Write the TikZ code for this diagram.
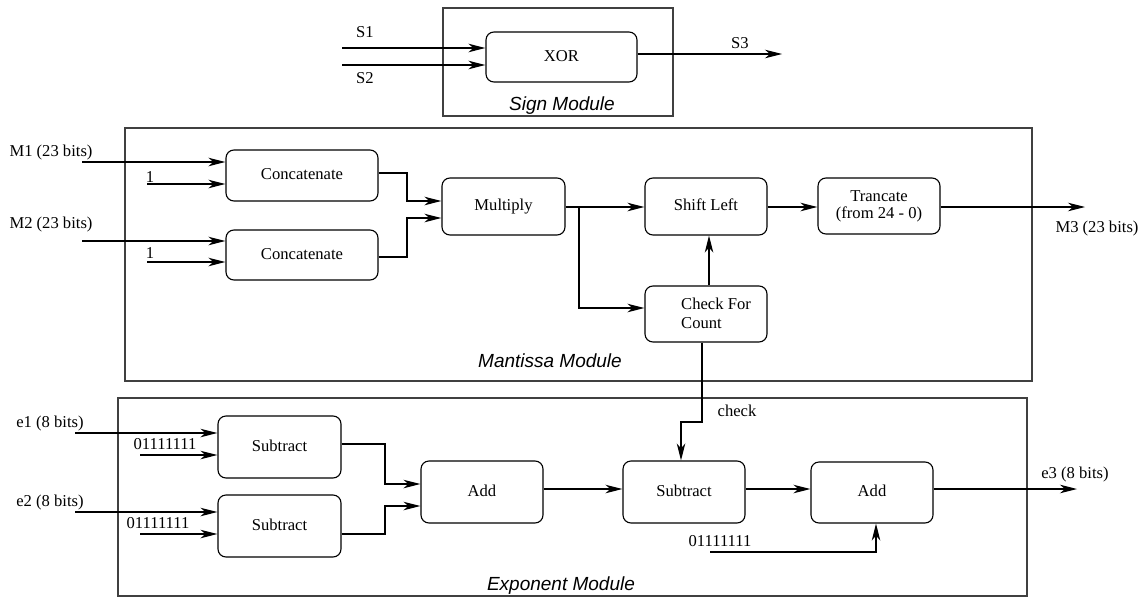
\documentclass[tikz,border=0pt]{standalone}
\usepackage{fontspec}
\setmainfont{Liberation Serif}
\newfontfamily\modfont{Liberation Sans}
\usetikzlibrary{arrows.meta,calc}
\begin{document}
\begin{tikzpicture}[x=1pt,y=-1pt,
  blk/.style={draw, line width=1.1pt, rounded corners=8pt, inner sep=0pt,
    font=\fontsize{16.6}{17}\selectfont, align=center},
  onel/.style={text height=11.5pt, text depth=3.5pt},
  modbox/.style={draw=black!75, line width=1.1pt, inner sep=0pt},
  lbl/.style={font=\fontsize{16.6}{19}\selectfont, inner sep=0pt, anchor=base},
  modlbl/.style={font=\modfont\itshape\fontsize{19}{22}\selectfont, inner sep=0pt, anchor=base},
  wire/.style={line width=1.1pt},
  arr/.style={line width=1.1pt, -{Stealth[length=17pt,width=8.5pt,inset=5pt]}}
]
\useasboundingbox (0,0) rectangle (1148,597);

% modules
\node[modbox, minimum width=230pt, minimum height=108pt] (sign) at (558,62) {};
\node[modbox, minimum width=907pt, minimum height=253pt] (mant) at (578.5,254.5) {};
\node[modbox, minimum width=909pt, minimum height=198pt] (expo) at (572.5,497) {};
\node[modlbl] (signlbl) at (562,110) {Sign Module};
\node[modlbl] (mantlbl) at (550,367) {Mantissa Module};
\node[modlbl] (expolbl) at (561,590) {Exponent Module};

% blocks
\node[blk, onel, minimum width=151pt, minimum height=50pt] (xor) at (561.5,57) {XOR};
\node[blk, onel, minimum width=152pt, minimum height=51pt] (cat1) at (302,175.5) {Concatenate};
\node[blk, onel, minimum width=152pt, minimum height=50pt] (cat2) at (302,255) {Concatenate};
\node[blk, onel, minimum width=123pt, minimum height=57pt] (mul) at (503.5,206.5) {Multiply};
\node[blk, onel, minimum width=122pt, minimum height=57pt] (shl) at (706,206.5) {Shift Left};
\node[blk, minimum width=122pt, minimum height=56pt] (chk) at (706,314) {};
\node[lbl, align=left, anchor=west] (chktxt) at ($(chk.center)+(-25,-1)$) {Check For\\Count};
\node[blk, minimum width=122pt, minimum height=56pt] (trc) at (879,206) {Trancate\\(from 24 - 0)};
\node[blk, onel, minimum width=123pt, minimum height=62pt] (sub1) at (279.5,447) {Subtract};
\node[blk, onel, minimum width=123pt, minimum height=62pt] (sub2) at (279.5,526) {Subtract};
\node[blk, onel, minimum width=122pt, minimum height=62pt] (add1) at (482,492) {Add};
\node[blk, onel, minimum width=122pt, minimum height=62pt] (sub3) at (684,492) {Subtract};
\node[blk, onel, minimum width=122pt, minimum height=61pt] (add2) at (872,492.5) {Add};

% labels
\node[lbl] (ls1) at (365,37) {S1};
\node[lbl] (ls2) at (365,83) {S2};
\node[lbl] (ls3) at (740,48) {S3};
\node[lbl] (lm1) at (51,156) {M1 (23 bits)};
\node[lbl] (lo1) at (150,182) {1};
\node[lbl] (lm2) at (51,228) {M2 (23 bits)};
\node[lbl] (lo2) at (150,258) {1};
\node[lbl] (lm3) at (1097,232) {M3 (23 bits)};
\node[lbl] (le1) at (50,427) {e1 (8 bits)};
\node[lbl] (lb1) at (165,449) {01111111};
\node[lbl] (le2) at (50,506) {e2 (8 bits)};
\node[lbl] (lb2) at (158,528) {01111111};
\node[lbl] (lck) at (737,416) {check};
\node[lbl] (lb3) at (720,546) {01111111};
\node[lbl] (le3) at (1075,478) {e3 (8 bits)};

% free ends and bends
\coordinate (s1) at (342,48);
\coordinate (s2) at (342,65);
\coordinate (s3) at (782,54);
\coordinate (m1) at (82,162);
\coordinate (o1) at (147,184);
\coordinate (m2) at (82,241);
\coordinate (o2) at (147,262);
\coordinate (j1a) at (407,173);
\coordinate (j1b) at (407,201);
\coordinate (j2a) at (407,257);
\coordinate (j2b) at (407,218);
\coordinate (br) at (579,207);
\coordinate (brb) at (579,308);
\coordinate (m3) at (1085,207);
\coordinate (cka) at (702,422);
\coordinate (ckb) at (681,422);
\coordinate (e1) at (75,433);
\coordinate (b1) at (140,455);
\coordinate (e2) at (75,512);
\coordinate (b2) at (140,534);
\coordinate (k1a) at (385,444);
\coordinate (k1b) at (385,484);
\coordinate (k2a) at (385,534);
\coordinate (k2b) at (385,506);
\coordinate (r) at (0,489);
\coordinate (e3) at (1077,489);
\coordinate (b3) at (710,552);
\coordinate (b3k) at (876,552);

% sign
\draw[arr] (s1) -- (s1 -| xor.west);
\draw[arr] (s2) -- (s2 -| xor.west);
\draw[arr] (xor.east |- s3) -- (s3);

% mantissa
\draw[arr] (m1) -- (m1 -| cat1.west);
\draw[arr] (o1) -- (o1 -| cat1.west);
\draw[arr] (m2) -- (m2 -| cat2.west);
\draw[arr] (o2) -- (o2 -| cat2.west);
\draw[arr] (cat1.east |- j1a) -- (j1a) -- (j1b) -- (j1b -| mul.west);
\draw[arr] (cat2.east |- j2a) -- (j2a) -- (j2b) -- (j2b -| mul.west);
\draw[arr] (mul.east |- br) -- (br -| shl.west);
\draw[arr] (br) -- (brb) -- (brb -| chk.west);
\draw[arr] ($(chk.north)+(3,0)$) -- ($(shl.south)+(3,0)$);
\draw[arr] (shl.east |- br) -- (br -| trc.west);
\draw[arr] (trc.east |- m3) -- (m3);
\draw[arr] ($(chk.south)+(-4,0)$) -- (cka) -- (ckb) -- (ckb |- sub3.north);

% exponent
\draw[arr] (e1) -- (e1 -| sub1.west);
\draw[arr] (b1) -- (b1 -| sub1.west);
\draw[arr] (e2) -- (e2 -| sub2.west);
\draw[arr] (b2) -- (b2 -| sub2.west);
\draw[arr] (sub1.east |- k1a) -- (k1a) -- (k1b) -- (k1b -| add1.west);
\draw[arr] (sub2.east |- k2a) -- (k2a) -- (k2b) -- (k2b -| add1.west);
\draw[arr] (add1.east |- r) -- (r -| sub3.west);
\draw[arr] (sub3.east |- r) -- (r -| add2.west);
\draw[arr] (add2.east |- e3) -- (e3);
\draw[arr] (b3) -- (b3k) -- (b3k |- add2.south);
\end{tikzpicture}
\end{document}
